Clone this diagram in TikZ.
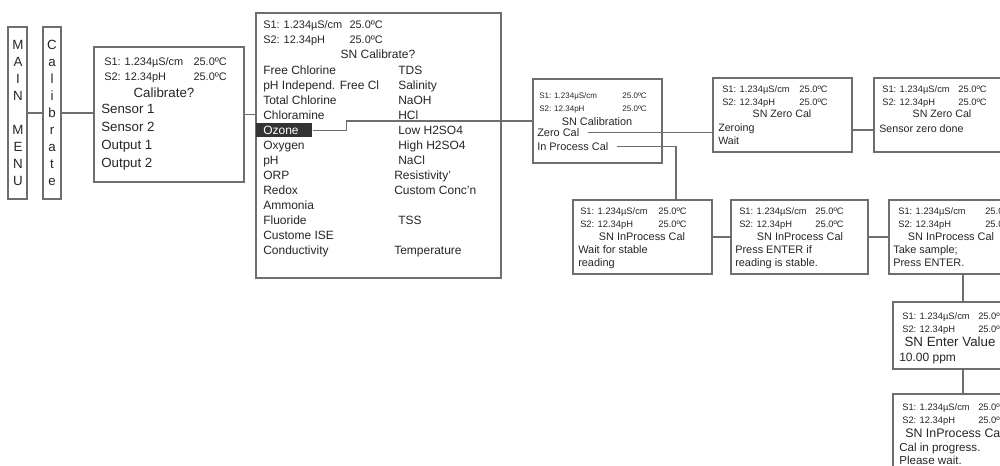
\documentclass[tikz,border=0pt]{standalone}
\usepackage{fontspec}
\setmainfont{Liberation Sans}
\definecolor{lc}{HTML}{6E6E6E}
\definecolor{tc}{HTML}{262626}
\definecolor{hl}{HTML}{333333}
\newcommand\fA{\fontsize{8.2pt}{9.8pt}\selectfont}
\newcommand\fB{\fontsize{10pt}{12.8pt}\selectfont}
\newcommand\fC{\fontsize{9pt}{11pt}\selectfont}
\newcommand\fD{\fontsize{6pt}{7pt}\selectfont}
\newcommand\fE{\fontsize{8.2pt}{9.8pt}\selectfont}
\newcommand\fF{\fontsize{7pt}{8.4pt}\selectfont}
\newcommand\fG{\fontsize{8pt}{9.6pt}\selectfont}
\newcommand\fH{\fontsize{10pt}{12pt}\selectfont}
\newcommand\fI{\fontsize{9pt}{11pt}\selectfont}
\newcommand\fJ{\fontsize{9.3pt}{11pt}\selectfont}
\newcommand\fK{\fontsize{8.7pt}{10.4pt}\selectfont}
\newcommand\scr[5]{\node[scrbox, minimum width=#4*0.75pt, minimum height=#5*0.75pt] (#1) at (#2,#3) {};}
\begin{document}
\begin{tikzpicture}[x=0.75pt,y=-0.75pt,
  scrbox/.style={draw=lc, line width=0.8pt, anchor=north west, inner sep=0pt, outer sep=0pt, fill=white},
  tl/.style={anchor=mid west, inner sep=0pt, text=tc},
  tr/.style={anchor=mid east, inner sep=0pt, text=tc},
  tcn/.style={anchor=mid, inner sep=0pt, text=tc},
  vlab/.style={anchor=center, inner sep=0pt, text=tc, align=center, font=\fB},
  conn/.style={draw=lc, line width=0.8pt}]
\useasboundingbox (0,0) rectangle (1000,465);
\clip (0,0) rectangle (1000,465);
% boxes
\scr{main}{8}{27}{19}{172}
\scr{calib}{43}{27}{18}{172}
\scr{calq}{94}{47}{150}{135}
\scr{sncalq}{256}{13}{245}{265}
\scr{sncal}{533}{79}{129}{84}
\scr{zero}{713}{78}{139}{74}
\scr{zdone}{874}{78}{139}{74}
\scr{ipa}{573}{200}{139}{74}
\scr{ipb}{731}{200}{137}{74}
\scr{ipc3}{889}{200}{139}{74}
\scr{ev}{893}{302}{140}{67}
\scr{last}{893}{394}{140}{100}
% vertical labels
\node[vlab] (mmt) at (18,113) {M\\A\\I\\N\\[12.8pt]M\\E\\N\\U};
\node[vlab] (cbt) at (52,113) {C\\a\\l\\i\\b\\r\\a\\t\\e};
% Calibrate? box
\node[tl,font=\fA] (qa) at (104,62) {S1: 1.234µS/cm};
\node[tr,font=\fA] (qat) at (227,62) {25.0ºC};
\node[tl,font=\fA] (qb) at (104,77) {S2: 12.34pH};
\node[tr,font=\fA] (qbt) at (227,77) {25.0ºC};
\node[tcn,font=\fB] (qc) at (164,94) {Calibrate?};
\node[tl,font=\fB] (qd) at (101,110) {Sensor 1};
\node[tl,font=\fB] (qe) at (101,128) {Sensor 2};
\node[tl,font=\fB] (qf) at (101,146) {Output 1};
\node[tl,font=\fB] (qg) at (101,164) {Output 2};
% SN Calibrate? box
\node[tl,font=\fA] (sa) at (263,25) {S1: 1.234µS/cm};
\node[tr,font=\fA] (sat) at (383,25) {25.0ºC};
\node[tl,font=\fA] (sb) at (263,40) {S2: 12.34pH};
\node[tr,font=\fA] (sbt) at (383,40) {25.0ºC};
\node[tcn,font=\fC] (sc) at (378,55) {SN Calibrate?};
\node[fill=hl, anchor=north west, inner sep=0pt, minimum width=42pt, minimum height=10.5pt] (oz) at (256,123) {};
\node[tl,font=\fC] (l1) at (263,70.5) {Free Chlorine};
\node[tl,font=\fC] (l2) at (263,85.5) {pH Independ. Free Cl};
\node[tl,font=\fC] (l3) at (263,100.5) {Total Chlorine};
\node[tl,font=\fC] (l4) at (263,115.5) {Chloramine};
\node[tl,font=\fC,text=white] (l5) at (263,130.5) {Ozone};
\node[tl,font=\fC] (l6) at (263,145.5) {Oxygen};
\node[tl,font=\fC] (l7) at (263,160.5) {pH};
\node[tl,font=\fC] (l8) at (263,175.5) {ORP};
\node[tl,font=\fC] (l9) at (263,190.5) {Redox};
\node[tl,font=\fC] (l10) at (263,205.5) {Ammonia};
\node[tl,font=\fC] (l11) at (263,220.5) {Fluoride};
\node[tl,font=\fC] (l12) at (263,235.5) {Custome ISE};
\node[tl,font=\fC] (l13) at (263,250.5) {Conductivity};
\node[tl,font=\fC] (r1) at (398,70.5) {TDS};
\node[tl,font=\fC] (r2) at (398,85.5) {Salinity};
\node[tl,font=\fC] (r3) at (398,100.5) {NaOH};
\node[tl,font=\fC] (r4) at (398,115.5) {HCl};
\node[tl,font=\fC] (r5) at (398,130.5) {Low H2SO4};
\node[tl,font=\fC] (r6) at (398,145.5) {High H2SO4};
\node[tl,font=\fC] (r7) at (398,160.5) {NaCl};
\node[tl,font=\fC] (r8) at (394,175.5) {Resistivity'};
\node[tl,font=\fC] (r9) at (394,190.5) {Custom Conc'n};
\node[tl,font=\fC] (r10) at (398,220.5) {TSS};
\node[tl,font=\fC] (r11) at (394,250.5) {Temperature};
% SN Calibration box
\node[tl,font=\fD] (na) at (539,95) {S1: 1.234µS/cm};
\node[tr,font=\fD] (nat) at (647,95) {25.0ºC};
\node[tl,font=\fD] (nb) at (539,108) {S2: 12.34pH};
\node[tr,font=\fD] (nbt) at (647,108) {25.0ºC};
\node[tcn,font=\fE] (nc) at (597,122) {SN Calibration};
\node[tl,font=\fE] (zc) at (537,133) {Zero Cal};
\node[tl,font=\fE] (ipl) at (537,147) {In Process Cal};
% Zero Cal box
\node[tl,font=\fF] (za) at (722,89) {S1: 1.234µS/cm};
\node[tr,font=\fF] (zat) at (828,89) {25.0ºC};
\node[tl,font=\fF] (zb) at (722,102) {S2: 12.34pH};
\node[tr,font=\fF] (zbt) at (828,102) {25.0ºC};
\node[tcn,font=\fG] (zcc) at (782,114) {SN Zero Cal};
\node[tl,font=\fG] (zd) at (718,128) {Zeroing};
\node[tl,font=\fG] (ze) at (718,141) {Wait};
% Sensor zero done box
\node[tl,font=\fF] (da) at (882,89) {S1: 1.234µS/cm};
\node[tr,font=\fF] (dat) at (987,89) {25.0ºC};
\node[tl,font=\fF] (db) at (882,102) {S2: 12.34pH};
\node[tr,font=\fF] (dbt) at (987,102) {25.0ºC};
\node[tcn,font=\fG] (dc) at (942,114) {SN Zero Cal};
\node[tl,font=\fG] (dd) at (879,129) {Sensor zero done};
% InProcess 1
\node[tl,font=\fF] (aa) at (580,211) {S1: 1.234µS/cm};
\node[tr,font=\fF] (aat) at (687,211) {25.0ºC};
\node[tl,font=\fF] (ab) at (580,224) {S2: 12.34pH};
\node[tr,font=\fF] (abt) at (687,224) {25.0ºC};
\node[tcn,font=\fE] (ac) at (642,237) {SN InProcess Cal};
\node[tl,font=\fE] (ad) at (578,250) {Wait for stable};
\node[tl,font=\fE] (ae) at (578,263) {reading};
% InProcess 2
\node[tl,font=\fF] (ba) at (739,211) {S1: 1.234µS/cm};
\node[tr,font=\fF] (bat) at (844,211) {25.0ºC};
\node[tl,font=\fF] (bb) at (739,224) {S2: 12.34pH};
\node[tr,font=\fF] (bbt) at (844,224) {25.0ºC};
\node[tcn,font=\fE] (bc) at (800,237) {SN InProcess Cal};
\node[tl,font=\fE] (bd) at (735,250) {Press ENTER if};
\node[tl,font=\fE] (be) at (735,263) {reading is stable.};
% InProcess 3
\node[tl,font=\fF] (ca) at (898,211) {S1: 1.234µS/cm};
\node[tl,font=\fF] (cat) at (985,211) {25.0ºC};
\node[tl,font=\fF] (cb) at (898,224) {S2: 12.34pH};
\node[tl,font=\fF] (cbt2) at (985,224) {25.0ºC};
\node[tcn,font=\fE] (cc) at (951,237) {SN InProcess Cal};
\node[tl,font=\fE] (cd) at (893,250) {Take sample;};
\node[tl,font=\fE] (ce) at (893,263) {Press ENTER.};
% Enter Value
\node[tl,font=\fF] (ea) at (902,316) {S1: 1.234µS/cm};
\node[tl,font=\fF] (eat) at (978,316) {25.0ºC};
\node[tl,font=\fF] (eb) at (902,329) {S2: 12.34pH};
\node[tl,font=\fF] (ebt) at (978,329) {25.0ºC};
\node[tcn,font=\fH] (ec) at (950,343) {SN Enter Value};
\node[tl,font=\fI] (ed) at (899,358) {10.00 ppm};
% last
\node[tl,font=\fF] (fa) at (902,407) {S1: 1.234µS/cm};
\node[tl,font=\fF] (fat) at (978,407) {25.0ºC};
\node[tl,font=\fF] (fb) at (902,420) {S2: 12.34pH};
\node[tl,font=\fF] (fbt) at (978,420) {25.0ºC};
\node[tl,font=\fJ] (fc) at (905,434) {SN InProcess Cal};
\node[tl,font=\fK] (fd) at (899,448) {Cal in progress.};
\node[tl,font=\fK] (fe) at (899,461) {Please wait.};
% connectors
\draw[conn] (main) -- (calib);
\draw[conn] (calib.east) -- (calib.east -| calq.west);
\draw[conn] (calq.east) -- (calq.east -| sncalq.west);
\draw[conn] (oz.east) -- ++(34,0) |- (sncal.west);
\draw[conn] ([xshift=6.5pt]zc.east) -- (zc.east -| zero.west);
\draw[conn] ([xshift=6.5pt]ipl.east) -| ([xshift=-27pt]ipa.north east);
\draw[conn] ([yshift=-11.25pt]zero.east) -- ([yshift=-11.25pt]zdone.west);
\draw[conn] (ipa) -- (ipb);
\draw[conn] (ipb) -- (ipc3);
\draw[conn] (ipc3.south -| ev.north) -- (ev.north);
\draw[conn] (ev.south) -- (last.north);
\end{tikzpicture}
\end{document}
